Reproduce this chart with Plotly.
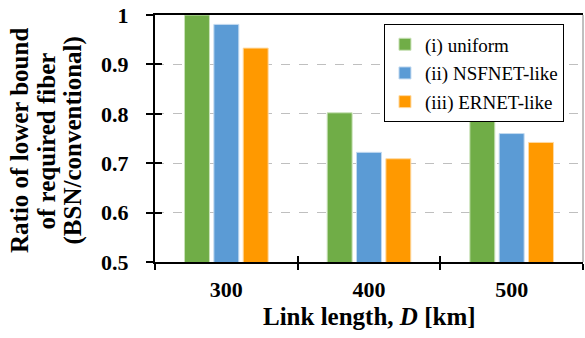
import plotly.graph_objects as go

categories = ["300", "400", "500"]
uniform = [1.0, 0.802, 0.802]
nsfnet = [0.981, 0.722, 0.760]
ernet = [0.933, 0.709, 0.742]
series_names = ["(i) uniform", "(ii) NSFNET-like", "(iii) ERNET-like"]
y_tickvals = [0.5, 0.6, 0.7, 0.8, 0.9, 1.0]
y_ticktext = ["0.5", "0.6", "0.7", "0.8", "0.9", "1"]
y_title_lines = ["Ratio of lower bound", "of required fiber", "(BSN/conventional)"]
x_title = "Link length, <i>D</i> [km]"

colors = ["#70AD47", "#5B9BD5", "#FF9900"]
edge_colors = ["#C9E2B8", "#C3DAF0", "#FFD9A0"]
FONT = "'Liberation Serif', 'Times New Roman', Times, serif"

fig = go.Figure()
for i, vals in enumerate([uniform, nsfnet, ernet]):
    fig.add_trace(go.Bar(
        x=categories, y=vals, name=series_names[i],
        marker=dict(color=colors[i], line=dict(color=edge_colors[i], width=1)),
        legendgroup=str(i),
    ))

# invisible trace to hold the overlay axes used for crossing ticks
fig.add_trace(go.Scatter(x=categories, y=[None] * 3, xaxis="x2", yaxis="y2",
                         showlegend=False, hoverinfo="skip", mode="markers"))

y_title_x_px = [20, 46.5, 72.5]
annotations = []
for line, xpx in zip(y_title_lines, y_title_x_px):
    annotations.append(dict(
        text=line, xref="paper", yref="paper", x=(xpx - 155) / 428, y=0.49,
        xanchor="center", yanchor="middle", textangle=-90, showarrow=False,
        font=dict(family=FONT, size=25, weight="bold", color="black")))
annotations.append(dict(
    text=x_title, xref="paper", yref="paper", x=0.5, y=-0.222,
    xanchor="center", yanchor="middle", showarrow=False,
    font=dict(family=FONT, size=25, weight="bold", color="black")))

fig.update_layout(
    width=585, height=338,
    margin=dict(l=155, r=2, t=15, b=76),
    plot_bgcolor="white", paper_bgcolor="white",
    font=dict(family=FONT, color="black"),
    barmode="group", bargap=0.383, bargroupgap=0.15,
    showlegend=True,
    legend=dict(
        x=0.535, y=0.962, xanchor="left", yanchor="top",
        bordercolor="black", borderwidth=1, bgcolor="white",
        font=dict(family=FONT, size=19, color="black"),
        traceorder="grouped", tracegroupgap=1,
        itemwidth=30,
    ),
    xaxis=dict(
        type="category", categoryorder="array", categoryarray=categories,
        range=[-0.5, 2.5],
        showline=True, linecolor="black", linewidth=2, mirror=True,
        ticks="outside", tickson="boundaries", ticklen=6, tickwidth=1.5, tickcolor="black",
        tickfont=dict(family=FONT, size=22, weight="bold", color="black"),
        ticklabelstandoff=7,
        showgrid=False, zeroline=False,
    ),
    yaxis=dict(
        range=[0.5, 1.0],
        tickvals=y_tickvals, ticktext=y_ticktext,
        showline=True, linecolor="black", linewidth=2,
        ticks="outside", ticklen=7, tickwidth=1.5, tickcolor="black",
        tickfont=dict(family=FONT, size=22, weight="bold", color="black"),
        ticklabelstandoff=13,
        showgrid=True, gridcolor="#BFBFBF", griddash="dash", gridwidth=1,
        zeroline=False,
    ),
    xaxis2=dict(
        type="category", categoryorder="array", categoryarray=categories,
        range=[-0.5, 2.5], overlaying="x", anchor="y2",
        ticks="inside", tickson="boundaries", ticklen=6, tickwidth=1.5, tickcolor="black",
        showticklabels=False, showgrid=False, showline=False, zeroline=False,
    ),
    yaxis2=dict(
        range=[0.5, 1.0], overlaying="y", anchor="x2", side="left",
        tickvals=y_tickvals,
        ticks="inside", ticklen=7, tickwidth=1.5, tickcolor="black",
        showticklabels=False, showgrid=False, showline=False, zeroline=False,
    ),
    shapes=[dict(type="line", xref="paper", yref="paper", x0=1, x1=1, y0=0, y1=1,
                 line=dict(color="#808080", width=1))],
    annotations=annotations,
)

fig.write_html("out.html", config={"displayModeBar": False},
               post_script="document.body.style.margin='0';document.body.style.overflow='hidden';")
